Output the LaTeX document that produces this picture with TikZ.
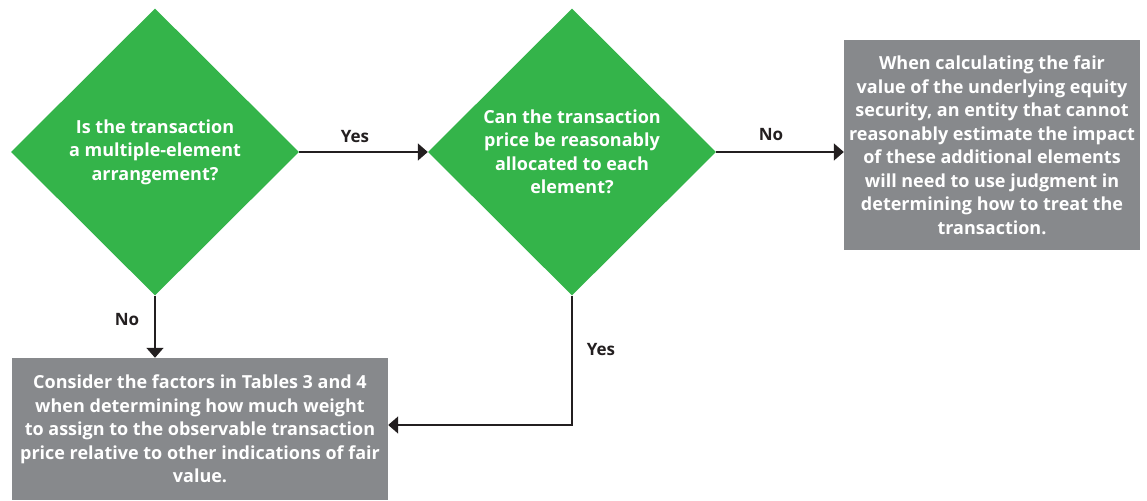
\documentclass[tikz,border=0pt]{standalone}
\usepackage{fontspec}
\setmainfont{Open Sans}
\usetikzlibrary{shapes.geometric,arrows.meta}
\definecolor{dgreen}{RGB}{52,180,74}
\definecolor{dgray}{RGB}{135,137,140}
\definecolor{ink}{RGB}{35,31,32}
\tikzset{
  decision/.style={diamond, fill=dgreen, draw=none, inner sep=0pt, minimum width=288pt, minimum height=287pt, text=white, align=center, font=\fontsize{18}{23.5}\selectfont\bfseries},
  outcome/.style={rectangle, fill=dgray, draw=none, inner sep=0pt, text=white, align=center, font=\fontsize{18}{23.5}\selectfont\bfseries},
  conn/.style={draw=ink, line width=1.6pt, -{Triangle[length=10pt,width=17pt]}},
  lbl/.style={text=ink, font=\fontsize{17}{20}\selectfont\bfseries}
}
\begin{document}
\begin{tikzpicture}[x=1pt,y=1pt]
\useasboundingbox (0,0) rectangle (1147,500);
\node[decision] (d1) at (155,348) {Is the transaction\\a multiple-element\\arrangement?};
\node[decision] (d2) at (572,348) {Can the transaction\\price be reasonably\\allocated to each\\element?};
\node[outcome, minimum width=296pt, minimum height=210pt] (b1) at (992,355) {When calculating the fair\\value of the underlying equity\\security, an entity that cannot\\reasonably estimate the impact\\of these additional elements\\will need to use judgment in\\determining how to treat the\\transaction.};
\node[outcome, minimum width=376pt, minimum height=142pt] (b2) at (200,71) {Consider the factors in Tables 3 and 4\\when determining how much weight\\to assign to the observable transaction\\price relative to other indications of fair\\value.};
\draw[conn] (d1.east) -- (d2.west);
\draw[conn] (d2.east) -- (b1.west |- d2.east);
\draw[conn] (d1.south) -- (d1.south |- b2.north);
\draw[conn] (d2.south) |- ([yshift=4pt]b2.east);
\node[lbl] (l1) at (355,363) {Yes};
\node[lbl] (l2) at (771,365) {No};
\node[lbl] (l3) at (127,180) {No};
\node[lbl] (l4) at (601,150) {Yes};
\end{tikzpicture}
\end{document}
